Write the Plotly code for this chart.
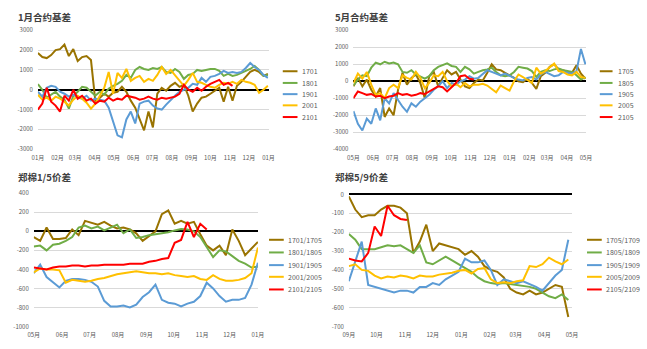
import plotly.graph_objects as go
import pandas as pd

# ---------------- data ----------------
COLORS = ["#997300", "#70AD47", "#5B9BD5", "#FFC000", "#FF0000"]

# Panel 1: 1月合约基差 (weekly readings from Jan 1)
P1_TITLE = "1月合约基差"
P1_START = "2021-01-01"
P1_MONTHS = ["01月", "02月", "03月", "04月", "05月", "06月", "07月", "08月", "09月", "10月", "11月", "12月", "01月"]
P1_NAMES = ["1701", "1801", "1901", "2001", "2101"]
P1_YTICKS = [-3000, -2000, -1000, 0, 1000, 2000, 3000]
P1_1701 = [1850, 1650, 1600, 1750, 2000, 2050, 2280, 1700, 2050, 1450, 1650, 1700, 1500, -600, -400, -200, -350, -150,
           -100, 150, -100, -550, -900, -1500, -2050, -1100, -1900, -200, 100, -50, 200, 350, 150, 250, -300, -1100,
           -700, -400, -350, -200, -50, 100, -600, 150, -550, 200, 400, 650, 900, 1000, 900, 700, 800]
P1_1801 = [280, 0, -400, -250, -100, -350, -500, -950, -300, -100, 150, 100, -100, -300, -100, -250, 50, 200, 300, 450,
           750, 600, 1000, 1150, 1050, 1000, 1100, 1050, 1150, 900, 850, 1050, 900, 550, 750, 800, 1000, 950, 1000,
           1050, 1050, 950, 700, 800, 700, 750, 850, 950, 1050, 1200, 1000, 700, 750]
P1_1901 = [-100, -350, 100, 200, 150, -100, -200, -350, -250, -400, -450, -300, -550, -450, -500, -550, -900, -1600,
           -2300, -2400, -1500, -1100, -1700, -700, -600, -550, -800, -950, -1000, -750, -500, -300, -100, 0, 100, 300,
           250, 600, 400, 650, 700, 800, 950, 850, 900, 850, 900, 1100, 1350, 1150, 1000, 750, 600]
P1_2001 = [-250, -500, -400, -550, -350, -450, -600, -800, -500, -300, -450, -650, -950, -700, -300, 100, 900, -200,
           850, 600, 1050, 450, 600, 700, 400, 550, 450, 750, 1150, 800, 1000, 750, 450, 200, 500, 850, 400, 350, 250,
           150, 100, 250, 350, 300, 400, 300, 500, 400, 350, 250, -150, 0, 200]
P1_2101 = [-1000, -700, 100, -600, -800, -1100, -300, -550, 0, -450, -300, -550, -450, -700, -550, -600, -400, -550,
           -450, -500, -300, -350, -400, -500, -450, -350, -450, -500, -400, -450, -400, -350, -200, 250, 0, -100, 100,
           -50, 150, 300, 400, 500, 250, 350, 200]

# Panel 2: 5月合约基差 (weekly readings from May 1)
P2_TITLE = "5月合约基差"
P2_START = "2021-05-01"
P2_MONTHS = ["05月", "06月", "07月", "08月", "09月", "10月", "11月", "12月", "01月", "02月", "03月", "04月", "05月"]
P2_NAMES = ["1705", "1805", "1905", "2005", "2105"]
P2_YTICKS = [-4000, -3000, -2000, -1000, 0, 1000, 2000, 3000]
P2_1705 = [-300, 200, -300, 100, -500, -900, -400, -2100, -1600, -2000, -500, 500, -200, 200, 400, -100, -1000, 300,
           550, -300, 200, 650, 400, 550, 100, -300, -400, -100, 100, 50, 500, 1000, 700, 650, 500, 350, 200, 0, -50,
           150, -100, -450, 300, 500, 850, 1000, 700, 650, 550, 500, 950, 450, 150]
P2_1805 = [-250, 100, 350, 300, 800, 1100, 1000, 1150, 1050, 1100, 1000, 550, 500, 650, 400, 250, 150, 300, 650, 850,
           950, 1050, 900, 850, 550, 850, 700, 450, 550, 650, 700, 800, 550, 350, 300, 350, 550, 850, 800, 750, 600,
           250, 550, 650, 600, 700, 750, 650, 600, 550, 350, 100, 250]
P2_1905 = [-1750, -2500, -2900, -2200, -2500, -1600, -2300, -1000, -1300, -700, -1100, -1500, -1800, -1300, -1500,
           -1200, -1000, -800, -500, -300, 0, -400, -100, -200, 0, 100, 300, 150, 200, 400, 650, 550, 450, 350, 450,
           300, 200, 100, 50, 200, 250, 100, 400, 550, 400, 300, 350, 550, 500, 450, 600, 1900, 1000]
P2_2005 = [-100, 450, 150, 550, -200, -800, -700, -1000, -400, -200, -400, 350, 200, 100, 550, 200, -400, -100, 350,
           300, 550, 0, -300, -150, -350, -100, -300, -200, -200, -150, -250, -450, -650, -250, -400, -550, 0, 400,
           250, 100, -100, 800, 450, 600, 800, 1050, 600, 550, 400, 350, 550, 250, 200]
P2_2105 = [-1000, -600, -700, -800, -750, -900, -850, -1000, -900, -850, -700, -800, -750, -850, -800, -700, -750,
           -600, -400, -300, -350, -600, -350, -100, 300, 350, 150, 100]

# Panel 3: 郑棉1/5价差 (weekly readings from May 1)
P3_TITLE = "郑棉1/5价差"
P3_START = "2021-05-01"
P3_MONTHS = ["05月", "06月", "07月", "08月", "09月", "10月", "11月", "12月", "01月"]
P3_NAMES = ["1701/1705", "1801/1805", "1901/1905", "2001/2005", "2101/2105"]
P3_YTICKS = [-1000, -800, -600, -400, -200, 0, 200, 400]
P3_1701 = [-60, -100, 40, -80, -80, -70, 20, -40, 110, 90, 70, 100, 60, 30, 40, 20, -20, -100, -50, 0, 180, 220, 80,
           110, 80, 100, -30, -150, -200, -150, -250, 20, -100, -250, -180, -110]
P3_1801 = [-160, -150, -200, -140, -130, -100, -60, 40, 60, 30, 50, 10, 40, 70, -20, 20, -70, -60, -40, -30, -20, -10,
           10, 25, 20, 0, -60, -160, -270, -200, -210, -260, -310, -340, -380, -370]
P3_1901 = [-440, -350, -480, -540, -590, -520, -500, -500, -510, -530, -580, -730, -790, -790, -780, -800, -770, -690,
           -640, -560, -720, -750, -760, -790, -760, -740, -680, -540, -600, -680, -740, -720, -720, -700, -560, -330]
P3_2001 = [-430, -390, -400, -400, -410, -540, -510, -520, -530, -520, -500, -490, -470, -450, -440, -430, -420, -430,
           -440, -440, -450, -440, -460, -470, -480, -470, -500, -510, -460, -500, -520, -520, -510, -490, -440, -170]
P3_2101 = [-380, -390, -400, -380, -370, -370, -360, -360, -370, -360, -360, -350, -350, -350, -350, -340, -340, -340,
           -320, -310, -290, -280, -120, -90, 100, -60, 80, 20]

# Panel 4: 郑棉5/9价差 (weekly readings from Sep 1)
P4_TITLE = "郑棉5/9价差"
P4_START = "2021-09-01"
P4_MONTHS = ["09月", "10月", "11月", "12月", "01月", "02月", "03月", "04月", "05月"]
P4_NAMES = ["1705/1709", "1805/1809", "1905/1909", "2005/2009", "2105/2109"]
P4_YTICKS = [-700, -600, -500, -400, -300, -200, -100, 0]
P4_1705 = [-10, -80, -120, -110, -110, -80, -60, -60, -70, -100, -310, -250, -160, -300, -260, -270, -280, -290, -320,
           -300, -330, -380, -400, -410, -440, -500, -520, -530, -510, -530, -520, -500, -480, -490, -650]
P4_1805 = [-210, -240, -290, -290, -290, -280, -270, -275, -270, -290, -310, -270, -360, -370, -350, -330, -350, -370,
           -390, -410, -440, -460, -470, -475, -470, -475, -480, -485, -490, -500, -520, -540, -550, -530, -560]
P4_1905 = [-460, -360, -250, -480, -490, -500, -510, -520, -510, -510, -520, -490, -490, -470, -480, -450, -430, -410,
           -340, -360, -360, -350, -400, -480, -450, -460, -470, -460, -475, -490, -510, -470, -430, -400, -240]
P4_2005 = [-380, -370, -400, -405, -430, -445, -435, -440, -430, -435, -445, -430, -435, -435, -425, -420, -415, -405,
           -400, -420, -395, -390, -450, -470, -465, -470, -460, -455, -380, -385, -370, -335, -355, -370, -345]
P4_2105 = [-340, -350, -355, -310, -170, -220, -60, -110, -130, -135]

# ---------------- layout helpers ----------------
W, H = 647, 349
FONT = "Noto Sans CJK SC, Noto Sans, sans-serif"
GRID = "#D9D9D9"
TXT = "#595959"

panels = [
    dict(title=P1_TITLE, start=P1_START, months=P1_MONTHS, names=P1_NAMES, yticks=P1_YTICKS, ytop=3000,
         series=[P1_1701, P1_1801, P1_1901, P1_2001, P1_2101],
         xpx=(32.5, 267.5), ypx=(26, 148), title_xy=(10, 12),
         leg_line=(282, 297), leg_text=300, leg_y=[68, 80, 91.5, 103, 115]),
    dict(title=P2_TITLE, start=P2_START, months=P2_MONTHS, names=P2_NAMES, yticks=P2_YTICKS, ytop=3000,
         series=[P2_1705, P2_1805, P2_1905, P2_2005, P2_2105],
         xpx=(354, 591), ypx=(26, 148), title_xy=(333, 12),
         leg_line=(605, 618), leg_text=622, leg_y=[68, 80, 91.5, 103, 115]),
    dict(title=P3_TITLE, start=P3_START, months=P3_MONTHS, names=P3_NAMES, yticks=P3_YTICKS, ytop=400,
         series=[P3_1701, P3_1801, P3_1901, P3_2001, P3_2101],
         xpx=(28.3, 256.7), ypx=(193.3, 330), title_xy=(10, 177),
         leg_line=(268, 283), leg_text=285, leg_y=[241, 254, 267, 279, 292]),
    dict(title=P4_TITLE, start=P4_START, months=P4_MONTHS, names=P4_NAMES, yticks=P4_YTICKS, ytop=6,
         series=[P4_1705, P4_1805, P4_1905, P4_2005, P4_2105],
         xpx=(349.3, 576.7), ypx=(193.3, 330), title_xy=(333, 177),
         leg_line=(592, 607), leg_text=609, leg_y=[241, 254, 267, 279, 292]),
]

fig = go.Figure()
shapes, annotations = [], []

for i, p in enumerate(panels, start=1):
    sfx = "" if i == 1 else str(i)
    xa, ya = "x" + sfx, "y" + sfx
    ticks_x = pd.date_range(p["start"], periods=len(p["months"]), freq="MS")
    for name, vals, col in zip(p["names"], p["series"], COLORS):
        xs = pd.date_range(p["start"], periods=len(vals), freq="7D")
        fig.add_trace(go.Scatter(x=xs, y=vals, mode="lines", name=name, xaxis=xa, yaxis=ya,
                                 line=dict(color=col, width=2), showlegend=False, hoverinfo="skip"))
    x0, x1 = p["xpx"]
    y0, y1 = p["ypx"]
    fig.layout["xaxis" + sfx] = dict(
        domain=[x0 / W, x1 / W], anchor=ya, type="date",
        range=[ticks_x[0], ticks_x[-1]], tickmode="array", tickvals=list(ticks_x), ticktext=p["months"],
        showgrid=False, zeroline=False, showline=False, ticks="", ticklabelstandoff=4,
        tickfont=dict(family=FONT, size=6, color=TXT), fixedrange=True)
    fig.layout["yaxis" + sfx] = dict(
        domain=[1 - y1 / H, 1 - y0 / H], anchor=xa,
        range=[p["yticks"][0], p["ytop"]], tickmode="array", tickvals=p["yticks"],
        ticktext=[str(v) for v in p["yticks"]], ticklabelstandoff=4,
        showgrid=True, gridcolor=GRID, gridwidth=1, zeroline=True, zerolinecolor="#000000", zerolinewidth=1.5,
        showline=False, ticks="", tickfont=dict(family=FONT, size=6, color=TXT), fixedrange=True)
    annotations.append(dict(xref="paper", yref="paper", x=p["title_xy"][0] / W, y=1 - p["title_xy"][1] / H,
                            xanchor="left", yanchor="middle", showarrow=False, text="<b>" + p["title"] + "</b>",
                            font=dict(family=FONT, size=9.5, color="#404040")))
    lx0, lx1 = p["leg_line"]
    for name, col, yc in zip(p["names"], COLORS, p["leg_y"]):
        shapes.append(dict(type="line", xref="paper", yref="paper", x0=lx0 / W, x1=lx1 / W,
                           y0=1 - yc / H, y1=1 - yc / H, line=dict(color=col, width=2)))
        annotations.append(dict(xref="paper", yref="paper", x=p["leg_text"] / W, y=1 - yc / H,
                                xanchor="left", yanchor="middle", showarrow=False, text=name,
                                font=dict(family=FONT, size=7, color=TXT)))

fig.update_layout(width=W, height=H, margin=dict(l=0, r=0, t=0, b=0),
                  paper_bgcolor="white", plot_bgcolor="white",
                  shapes=shapes, annotations=annotations, showlegend=False)

fig.write_html("out.html")
